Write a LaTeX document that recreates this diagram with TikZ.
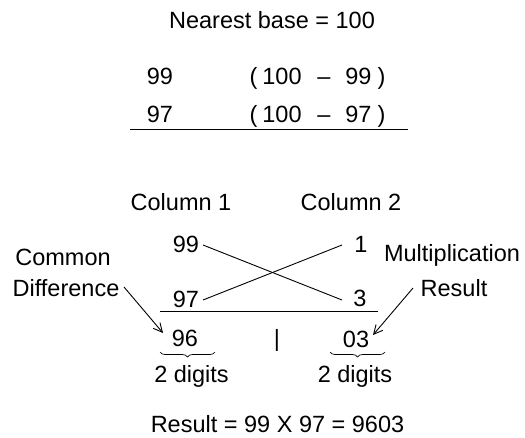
\documentclass[tikz,border=0pt]{standalone}
\usepackage{fontspec}
\setmainfont{Liberation Sans}
\usetikzlibrary{arrows.meta,decorations.pathreplacing}
\begin{document}
\begin{tikzpicture}[x=1pt,y=-1pt,
  txt/.style={inner sep=0pt,font=\fontsize{23.5}{28}\selectfont},
  bt/.style={txt,anchor=base},
  ln/.style={line width=0.9pt},
  arr/.style={line width=0.9pt,-{Straight Barb[length=9pt,width=9pt]}},
  brc/.style={line width=0.7pt,decorate,decoration={brace,mirror,amplitude=5pt}}]
\useasboundingbox (0,0) rectangle (525,437);
\node[txt] (title) at (272,20) {Nearest base = 100};
% top table
\node[bt] (a1) at (160,84) {99};
\node[bt] (p1o) at (253.5,84) {(};
\node[bt] (p1a) at (282,84) {100};
\node[bt] (p1m) at (324,84) {–};
\node[bt] (p1b) at (358.5,84) {99};
\node[bt] (p1c) at (381.5,84) {)};
\node[bt] (a2) at (160,122.5) {97};
\node[bt] (p2o) at (253.5,122.5) {(};
\node[bt] (p2a) at (282,122.5) {100};
\node[bt] (p2m) at (324,122.5) {–};
\node[bt] (p2b) at (358.5,122.5) {97};
\node[bt] (p2c) at (381.5,122.5) {)};
\coordinate (t1) at (130,129.5);
\coordinate (t2) at (408,129.5);
\draw[ln] (t1) -- (t2);
% columns
\node[txt] (c1) at (181,202) {Column 1};
\node[txt] (c2) at (351,202) {Column 2};
\node[txt] (n99) at (186,244) {99};
\node[txt] (n1) at (361,244) {1};
\node[txt] (n97) at (186,299) {97};
\node[txt] (n3) at (360,298) {3};
\coordinate (x1) at (203,245);
\coordinate (x2) at (342,300);
\coordinate (x3) at (203,300);
\coordinate (x4) at (342,245);
\draw[ln] (x1) -- (x2);
\draw[ln] (x3) -- (x4);
\coordinate (h1) at (160,311);
\coordinate (h2) at (378,311);
\draw[ln] (h1) -- (h2);
% results
\node[txt] (r96) at (185,338) {96};
\node[txt] (bar) at (277,340) {|};
\node[txt] (r03) at (356,339) {03};
\coordinate (b1l) at (160,352);
\coordinate (b1r) at (215,352);
\coordinate (b2l) at (330,352);
\coordinate (b2r) at (385,352);
\draw[brc] (b1l) -- (b1r);
\draw[brc] (b2l) -- (b2r);
\node[txt] (d1) at (191.5,376) {2 digits};
\node[txt] (d2) at (355,376) {2 digits};
% side labels
\node[txt] (cm) at (63,257) {Common};
\node[txt] (df) at (66,288) {Difference};
\node[txt] (mu) at (452,255) {Multiplication};
\node[txt] (rs) at (454,288) {Result};
\coordinate (a1s) at (124,287);
\coordinate (a1e) at (163,333);
\coordinate (a2s) at (413,288);
\coordinate (a2e) at (373,335);
\draw[arr] (a1s) -- (a1e);
\draw[arr] (a2s) -- (a2e);
\node[txt] (res) at (277.5,424) {Result = 99 X 97 = 9603};
\end{tikzpicture}
\end{document}
